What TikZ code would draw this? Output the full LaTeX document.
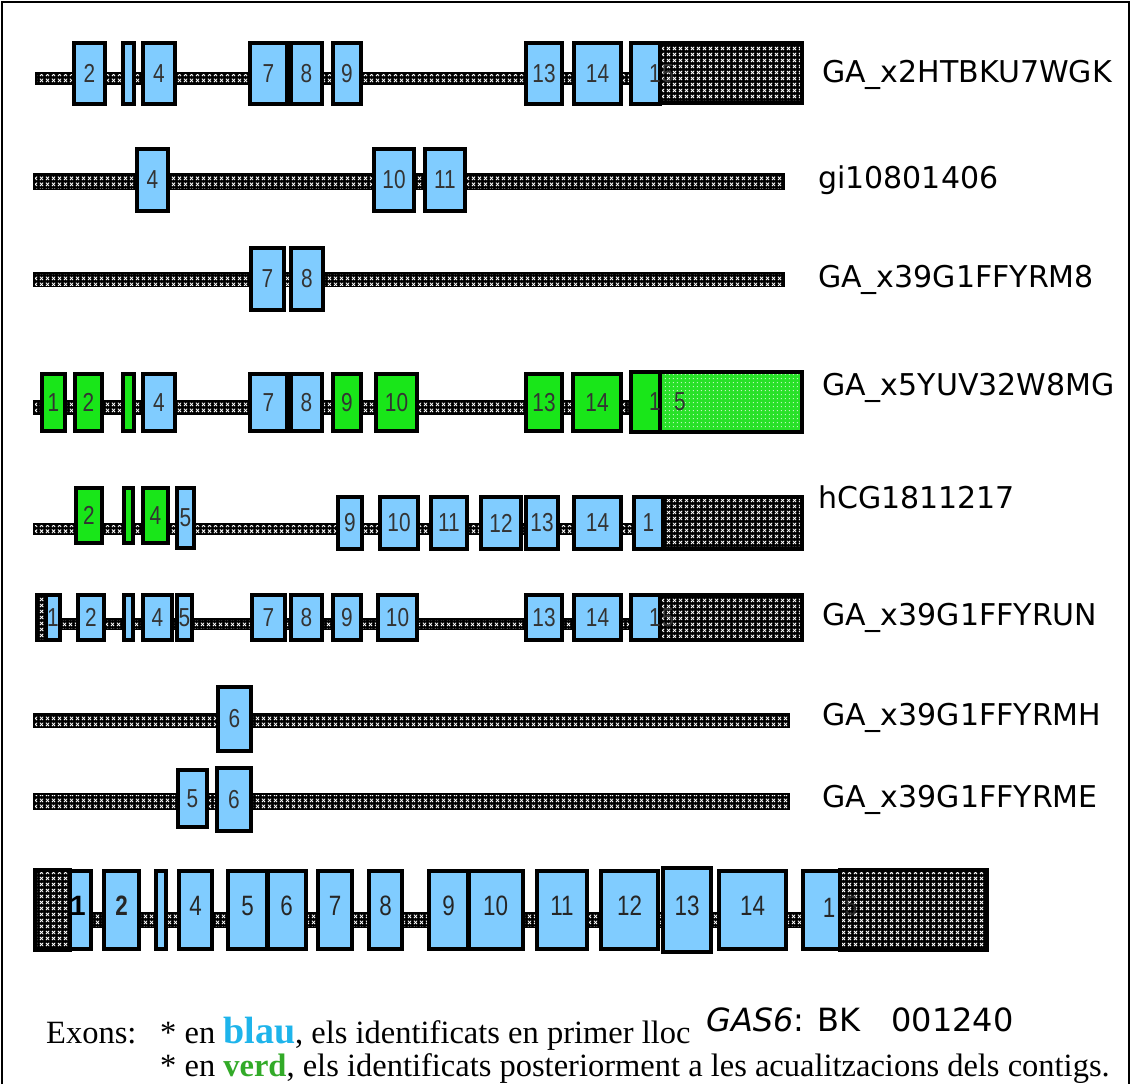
\documentclass[tikz,border=0pt]{standalone}
\usepackage{fontspec}
\usepackage{graphicx}
\setmainfont{Liberation Serif}
\newfontfamily\labfont{DejaVu Sans}
\newfontfamily\numfont{Liberation Sans}
\usetikzlibrary{patterns}
\pgfdeclarepatternformonly{wcross}{\pgfqpoint{0pt}{0pt}}{\pgfqpoint{5.5pt}{5.5pt}}{\pgfqpoint{5.5pt}{5.5pt}}{%
  \pgfsetlinewidth{0.9pt}%
  \pgfpathmoveto{\pgfqpoint{1pt}{1pt}}\pgfpathlineto{\pgfqpoint{4.5pt}{4.5pt}}%
  \pgfpathmoveto{\pgfqpoint{1pt}{4.5pt}}\pgfpathlineto{\pgfqpoint{4.5pt}{1pt}}%
  \pgfusepath{stroke}}
\pgfdeclarepatternformonly{wdots}{\pgfqpoint{0pt}{0pt}}{\pgfqpoint{4pt}{4pt}}{\pgfqpoint{4pt}{4pt}}{%
  \pgfpathrectangle{\pgfqpoint{1pt}{1pt}}{\pgfqpoint{1.3pt}{1.3pt}}%
  \pgfusepath{fill}}
\definecolor{exblue}{RGB}{128,204,255}
\definecolor{exgreen}{RGB}{25,230,25}
\definecolor{lgreen}{RGB}{40,225,40}
\definecolor{txtblue}{RGB}{30,180,235}
\definecolor{txtgreen}{RGB}{50,170,40}
\tikzset{
  exonbox/.style={draw=black, line width=3.5pt},
  num/.style={font=\numfont\fontsize{26}{28}\selectfont, inner sep=0pt, text=black!80},
  bignum/.style={font=\numfont\fontsize{28}{30}\selectfont, inner sep=0pt, text=black!85},
  rowlabel/.style={font=\labfont\fontsize{30}{34}\selectfont, anchor=west, inner sep=0pt},
  foot/.style={font=\fontsize{32.5}{36}\selectfont, anchor=base west, inner sep=0pt}
}
\newcommand\nm[1]{\scalebox{0.8}[1]{#1}}
\newcommand\intr[4]{%
  \fill[black] (#1,#3) rectangle (#2,#4);
  \fill[pattern=wcross, pattern color=white] (#1+2,#3+2) rectangle (#2-2,#4-2);}
\newcommand\exn[6]{%
  \draw[exonbox, fill=#5] (#1,#3) rectangle (#2,#4);
  \node[num] at ({(#1+#2)/2},{(#3+#4)/2}) {\nm{#6}};}
\newcommand\exb[6]{%
  \draw[exonbox, fill=#5] (#1,#3) rectangle (#2,#4);
  \node[bignum] at ({(#1+#2)/2},{(#3+#4)/2-4}) {\nm{#6}};}
\begin{document}
\begin{tikzpicture}[x=1pt,y=-1pt]
\useasboundingbox (0,0) rectangle (1131,1084);
\fill[white] (0,0) rectangle (1131,1084);
\draw[line width=1.5pt] (2,1084) -- (2,2) -- (1129,2) -- (1129,1084);

% Row 1
\intr{35}{660}{72}{85}
\intr{660}{802}{43}{103}
\draw[line width=3.5pt] (660,43) rectangle (802,103);
\exn{74}{105}{43}{104}{exblue}{2}
\exn{123}{134}{43}{104}{exblue}{}
\exn{143}{175}{43}{104}{exblue}{4}
\exn{250}{287}{43}{104}{exblue}{7}
\exn{291}{322}{43}{104}{exblue}{8}
\exn{333}{361}{43}{104}{exblue}{9}
\exn{526}{562}{43}{104}{exblue}{13}
\exn{574}{621}{43}{104}{exblue}{14}
\draw[exonbox, fill=exblue] (631,43) rectangle (660,104);
\node[num] at (655,74) {\nm{1}};
\node[num] at (668,74) {\nm{5}};
\node[rowlabel] (l1) at (822,75) {GA\_x2HTBKU7WGK};

% Row 2
\intr{33}{785}{173}{190}
\exn{137}{168}{149}{211}{exblue}{4}
\exn{374}{414}{149}{211}{exblue}{10}
\exn{425}{465}{149}{211}{exblue}{11}
\node[rowlabel] (l2) at (818,180) {gi10801406};

% Row 3
\intr{33}{785}{272}{287}
\exn{251}{284}{248}{310}{exblue}{7}
\exn{291}{323}{248}{310}{exblue}{8}
\node[rowlabel] (l3) at (818,280) {GA\_x39G1FFYRM8};

% Row 4
\intr{33}{630}{400}{415}
\exn{42}{65}{374}{431}{exgreen}{1}
\exn{75}{102}{374}{431}{exgreen}{2}
\exn{123}{134}{374}{431}{exgreen}{}
\exn{143}{175}{374}{431}{exblue}{4}
\exn{250}{287}{374}{431}{exblue}{7}
\exn{291}{322}{374}{431}{exblue}{8}
\exn{333}{361}{374}{431}{exgreen}{9}
\exn{376}{417}{374}{431}{exgreen}{10}
\exn{526}{562}{374}{431}{exgreen}{13}
\exn{573}{621}{374}{431}{exgreen}{14}
\fill[lgreen] (660,372) rectangle (802,432);
\fill[pattern=wdots, pattern color=white!70!lgreen] (662,374) rectangle (800,430);
\draw[exonbox] (631,372) rectangle (802,432);
\draw[exonbox, fill=exgreen] (631,372) rectangle (660,432);
\node[num] at (655,402) {\nm{1}};
\node[num] at (680,402) {\nm{5}};
\node[rowlabel] (l4) at (822,388) {GA\_x5YUV32W8MG};

% Row 5
\intr{33}{663}{523}{535}
\intr{663}{802}{497}{549}
\draw[line width=3.5pt] (663,497) rectangle (802,549);
\exn{76}{102}{488}{543}{exgreen}{2}
\exn{124}{133}{488}{543}{exgreen}{}
\exn{143}{168}{488}{543}{exgreen}{4}
\exn{177}{194}{488}{548}{exblue}{5}
\exn{338}{362}{497}{549}{exblue}{9}
\exn{380}{418}{497}{549}{exblue}{10}
\exn{431}{467}{497}{549}{exblue}{11}
\exn{481}{521}{497}{549}{exblue}{12}
\exn{526}{558}{497}{549}{exblue}{13}
\exn{574}{621}{497}{549}{exblue}{14}
\exn{634}{663}{497}{549}{exblue}{1}
\node[rowlabel] (l5) at (818,497) {hCG1811217};

% Row 6
\intr{37}{660}{618}{630}
\intr{36}{46}{594}{641}
\draw[line width=2pt] (36,594) rectangle (46,641);
\intr{660}{802}{595}{640}
\draw[line width=3.5pt] (660,595) rectangle (802,640);
\exn{46}{60}{595}{640}{exblue}{1}
\exn{78}{104}{595}{640}{exblue}{2}
\exn{124}{133}{595}{640}{exblue}{}
\exn{143}{172}{595}{640}{exblue}{4}
\exn{177}{192}{595}{640}{exblue}{5}
\exn{252}{285}{595}{640}{exblue}{7}
\exn{291}{322}{595}{640}{exblue}{8}
\exn{333}{361}{595}{640}{exblue}{9}
\exn{378}{417}{595}{640}{exblue}{10}
\exn{526}{562}{595}{640}{exblue}{13}
\exn{574}{621}{595}{640}{exblue}{14}
\draw[exonbox, fill=exblue] (631,595) rectangle (660,640);
\node[num] at (655,618) {\nm{1}};
\node[num] at (668,618) {\nm{5}};
\node[rowlabel] (l6) at (822,618) {GA\_x39G1FFYRUN};

% Row 7
\intr{33}{790}{713}{728}
\exn{218}{251}{687}{751}{exblue}{6}
\node[rowlabel] (l7) at (822,718) {GA\_x39G1FFYRMH};

% Row 8
\intr{33}{790}{793}{810}
\exn{178}{207}{770}{827}{exblue}{5}
\exn{217}{251}{768}{831}{exblue}{6}
\node[rowlabel] (l8) at (822,800) {GA\_x39G1FFYRME};

% Row 9 (reference)
\intr{70}{840}{912}{928}
\intr{35}{70}{870}{950}
\draw[line width=3.5pt] (35,870) rectangle (70,950);
\intr{840}{987}{870}{950}
\draw[line width=3.5pt] (840,870) rectangle (987,950);
\exb{70}{91}{871}{949}{exblue}{}
\node[bignum, font=\numfont\bfseries\fontsize{28}{30}\selectfont, text=black] at (78,906) {1};
\exb{104}{139}{871}{949}{exblue}{\bfseries 2}
\exb{156}{166}{871}{949}{exblue}{}
\exb{179}{212}{871}{949}{exblue}{4}
\exb{228}{267}{871}{949}{exblue}{5}
\exb{267}{306}{871}{949}{exblue}{6}
\draw[line width=5pt] (267,871) -- (267,949);
\exb{318}{352}{871}{949}{exblue}{7}
\exb{369}{402}{871}{949}{exblue}{8}
\exb{429}{468}{871}{949}{exblue}{9}
\exb{468}{523}{871}{949}{exblue}{10}
\draw[line width=5pt] (468,871) -- (468,949);
\exb{537}{587}{871}{949}{exblue}{11}
\exb{601}{658}{871}{949}{exblue}{12}
\exb{663}{711}{868}{952}{exblue}{13}
\exb{719}{786}{871}{949}{exblue}{14}
\exb{803}{840}{871}{949}{exblue}{}
\node[bignum] at (829,908) {\nm{1}};
\node[bignum] at (851,906) {\nm{5}};

% Footer
\node[font=\labfont\fontsize{32}{36}\selectfont, anchor=base west, inner sep=0pt] (gas) at (706,1031) {\textit{GAS6}: BK\ \ \ 001240};
\node[foot] (ex) at (46,1043) {Exons:};
\node[foot] (f1) at (160,1043) {* en \textcolor{txtblue}{\textbf{\fontsize{38}{38}\selectfont blau}}, els identificats en primer lloc};
\node[foot] (f2) at (160,1076) {* en \textcolor{txtgreen}{\textbf{\fontsize{32.5}{34}\selectfont verd}}, els identificats posteriorment a les acualitzacions dels contigs.};
\end{tikzpicture}
\end{document}
